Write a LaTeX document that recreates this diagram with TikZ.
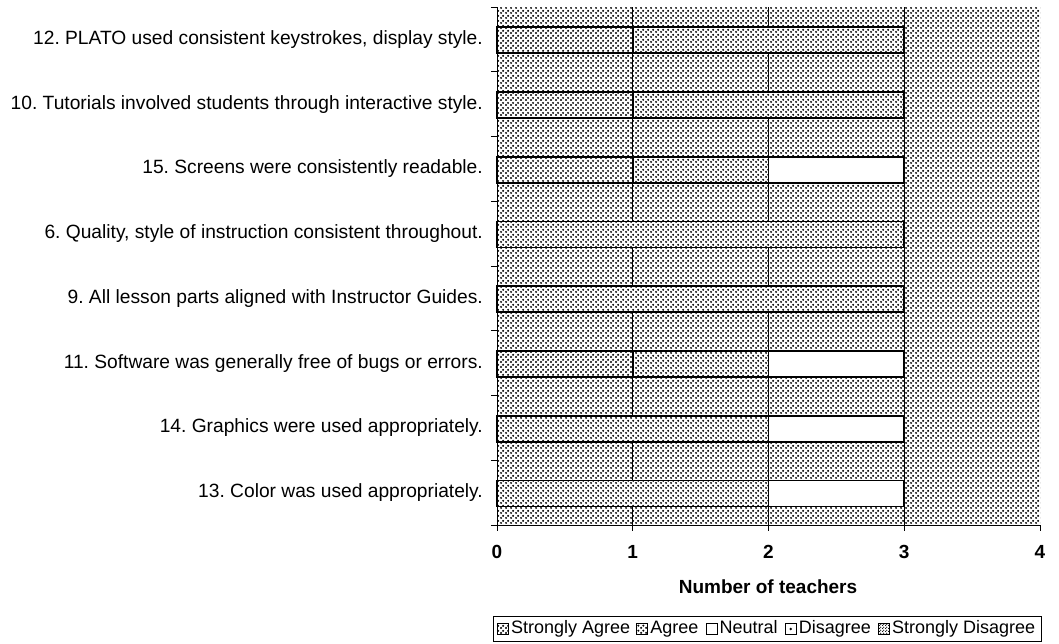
\documentclass[tikz,border=0pt]{standalone}
\usepackage{fontspec}
\setmainfont{Liberation Sans}
\usetikzlibrary{patterns}
\pgfdeclarepatternformonly{halftone}{\pgfpointorigin}{\pgfpoint{5pt}{5pt}}{\pgfpoint{5pt}{5pt}}{%
  \pgfpathcircle{\pgfpoint{1.25pt}{1.25pt}}{1.3pt}%
  \pgfpathcircle{\pgfpoint{3.75pt}{3.75pt}}{1.3pt}%
  \pgfusepath{fill}}
\pgfdeclarepatternformonly{halftonedense}{\pgfpointorigin}{\pgfpoint{4.5pt}{4.5pt}}{\pgfpoint{4.5pt}{4.5pt}}{%
  \pgfpathcircle{\pgfpoint{1.125pt}{1.125pt}}{1.2pt}%
  \pgfpathcircle{\pgfpoint{3.375pt}{3.375pt}}{1.2pt}%
  \pgfusepath{fill}}
\pgfdeclarepatternformonly{halftonedark}{\pgfpointorigin}{\pgfpoint{3pt}{3pt}}{\pgfpoint{3pt}{3pt}}{%
  \pgfpathcircle{\pgfpoint{0.75pt}{0.75pt}}{0.8pt}%
  \pgfpathcircle{\pgfpoint{2.25pt}{2.25pt}}{0.8pt}%
  \pgfusepath{fill}}
\begin{document}
\frenchspacing
\begin{tikzpicture}[x=1pt,y=-1pt,
  lab/.style={font=\fontsize{19.2}{22}\selectfont, inner sep=0pt},
  leglab/.style={font=\fontsize{18}{21}\selectfont, inner sep=0pt, text height=13pt, text depth=4pt},
  ticklab/.style={font=\fontsize{19}{22}\selectfont\bfseries, inner sep=0pt},
  bgfill/.style={pattern=halftone, pattern color=black},
  safill/.style={pattern=halftonedense, pattern color=black},
  agfill/.style={pattern=halftone, pattern color=black},
  neufill/.style={fill=white},
  barseg/.style={draw=black, line width=1.7pt},
  grid line/.style={draw=black, line width=1pt},
  axis line/.style={draw=black, line width=1pt},
  legsq/.style={draw=black, line width=0.8pt, minimum size=11pt, inner sep=0pt},
]
\useasboundingbox (0,0) rectangle (1059,643);
\fill[white] (0,0) rectangle (1059,643);

% plot area background
\fill[white] (497,7) rectangle (1040,525);
\fill[bgfill] (497,7) rectangle (1040,525);

\begin{scope}[shift={(497,0)}, x=135.75pt]
  % gridlines
  \foreach \g in {1,2}{\draw[grid line] (\g,7) -- (\g,525);}
  \draw[draw=black, line width=1.5pt] (3,7) -- (3,525);
  % bars
  \foreach \i/\segs in {
      0/{0/1/safill,1/3/agfill},
      1/{0/1/safill,1/3/agfill},
      2/{0/1/safill,1/2/agfill,2/3/neufill},
      3/{0/3/agfill},
      4/{0/3/agfill},
      5/{0/1/safill,1/2/agfill,2/3/neufill},
      6/{0/2/agfill,2/3/neufill},
      7/{0/2/agfill,2/3/neufill}}{
    \pgfmathsetmacro{\yc}{7+64.75*(\i+0.5)+0.8}
    \foreach \a/\b/\st in \segs {
      \fill[white] (\a,\yc-13) rectangle (\b,\yc+13);
      \path[\st] (\a,\yc-13) rectangle (\b,\yc+13);
      \draw[barseg] (\a,\yc-13) rectangle (\b,\yc+13);
    }
  }
  % axes
  \draw[axis line] (0,7) -- (0,531);
  \draw[axis line] (0,525) -- (4,525);
  \foreach \t in {0,...,4}{
    \draw[axis line] (\t,525) -- (\t,531);
    \node[ticklab] (xt\t) at (\t,552) {\t};
  }
  \foreach \k in {0,...,8}{
    \pgfmathsetmacro{\yb}{7+64.75*\k}
    \draw[axis line] (-0.045,\yb) -- (0,\yb);
  }
\end{scope}

% category labels
\foreach \i/\txt in {
  0/{12. PLATO used consistent keystrokes, display style.},
  1/{10. Tutorials involved students through interactive style.},
  2/{15. Screens were consistently readable.},
  3/{6. Quality, style of instruction consistent throughout.},
  4/{9. All lesson parts aligned with Instructor Guides.},
  5/{11. Software was generally free of bugs or errors.},
  6/{14. Graphics were used appropriately.},
  7/{13. Color was used appropriately.}}{
  \pgfmathsetmacro{\yc}{7+64.75*(\i+0.5)}
  \node[lab, anchor=east] (cat\i) at (483,\yc) {\txt};
}

% axis title
\node[ticklab] (xtitle) at (768,587) {Number of teachers};

% legend
\draw[black, line width=1pt, fill=white] (493,616) rectangle (1041,641);
\node[legsq, safill] (lsq1) at (503,629) {};
\node[leglab, anchor=west] (lt1) at ([xshift=2pt]lsq1.east) {Strongly Agree};
\node[legsq, agfill, anchor=west] (lsq2) at ([xshift=6pt]lt1.east) {};
\node[leglab, anchor=west] (lt2) at ([xshift=2pt]lsq2.east) {Agree};
\node[legsq, neufill, anchor=west] (lsq3) at ([xshift=7pt]lt2.east) {};
\node[leglab, anchor=west] (lt3) at ([xshift=2pt]lsq3.east) {Neutral};
\node[legsq, fill=white, anchor=west] (lsq4) at ([xshift=7pt]lt3.east) {};
\fill (lsq4.center) circle (1.4pt);
\node[leglab, anchor=west] (lt4) at ([xshift=2pt]lsq4.east) {Disagree};
\node[legsq, pattern=halftonedark, anchor=west] (lsq5) at ([xshift=7pt]lt4.east) {};
\node[leglab, anchor=west] (lt5) at ([xshift=2pt]lsq5.east) {Strongly Disagree};
\end{tikzpicture}
\end{document}
